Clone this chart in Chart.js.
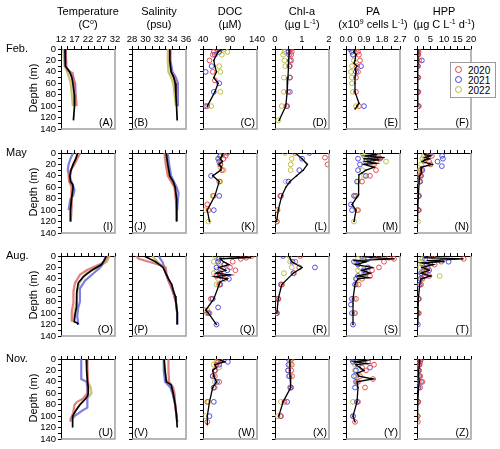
<!DOCTYPE html>
<html>
<head>
<meta charset="utf-8">
<script src="https://cdn.jsdelivr.net/npm/chart.js@4"></script>
<style>
  body { margin: 0; background: #fff; }
  #fig { position: relative; width: 500px; height: 449px; font-family: "Liberation Sans", Arial, sans-serif; color: #000; }
  #fig canvas { position: absolute; }
  .coltitle { position: absolute; width: 110px; text-align: center; font-size: 11px; line-height: 13px; top: 5px; }
  .coltitle sup { font-size: 7px; line-height: 0; vertical-align: 4px; }
  .rowlab { position: absolute; left: 6px; font-size: 11px; }
  .depth { position: absolute; font-size: 11px; width: 80px; text-align: center; transform: rotate(-90deg); }
  #legend { position: absolute; left: 450px; top: 62px; width: 44px; height: 34px; border: 1px solid #9a9a9a; background: #fff; font-size: 10px; z-index: 5; }
  #legend div { position: absolute; left: 4px; height: 10px; line-height: 10px; }
  #legend span.dot { display: inline-block; width: 5px; height: 5px; border: 1px solid; border-radius: 50%; margin-right: 6px; vertical-align: 1px; }
</style>
</head>
<body>
<div id="fig"></div>
<script>
// perfis por mês (linhas) e variável (colunas) — pares [profundidade, valor]
const months = ['Feb.', 'May', 'Aug.', 'Nov.'];
const varNames = ['Temperature', 'Salinity', 'DOC', 'Chl-a', 'PA', 'HPP'];
const varUnits = ['(C<sup>o</sup>)', '(psu)', '(\u00b5M)', '(\u00b5g L<sup>-1</sup>)', '(x10<sup>9</sup> cells L<sup>-1</sup>)', '(\u00b5g C L<sup>-1</sup> d<sup>-1</sup>)'];
const years = ['2020', '2021', '2022'];
const panelLetters = [['A','B','C','D','E','F'], ['I','J','K','L','M','N'], ['O','P','Q','R','S','T'], ['U','V','W','X','Y','Z']];
const xMin = [12, 28, 40, 0, 0, 0];
const xMax = [32, 36, 140, 2, 2.7, 20];
const xLabelStep = [5, 2, 50, 1, 0.9, 5];
const xTickStep = [2.5, 1, 25, 0.5, 0.45, 2.5];
const depthMax = 140;

// Fevereiro
const A_2020 = [[0,13.8],[10,13.8],[20,13.9],[30,14],[38,14.5],[42,16.3],[60,17],[80,17.4],[100,17.8]];
const A_2021 = [[0,13.4],[10,13.4],[20,13.5],[30,13.7],[40,15.3],[50,16.5],[60,17.2],[80,17.3],[100,17]];
const A_2022 = [[0,12.9],[10,13],[20,13.1],[30,13.3],[40,14.3],[50,15],[60,15.6],[80,16],[100,16.4]];
const A_mean = [[0,13.5],[10,13.5],[20,13.6],[30,13.8],[40,15.2],[50,16],[60,16.4],[80,16.9],[100,17],[125,16.6]];
const B_2020 = [[0,33.6],[20,33.6],[40,33.8],[50,34.2],[60,34.5],[80,34.6],[100,34.7]];
const B_2021 = [[0,33.7],[20,33.7],[40,34],[50,34.5],[60,34.8],[80,34.8],[100,34.8]];
const B_2022 = [[0,33.3],[20,33.3],[40,33.4],[50,33.8],[60,34.1],[80,34.3],[100,34.5]];
const B_mean = [[0,33.6],[20,33.6],[40,33.8],[50,34.2],[60,34.4],[80,34.5],[100,34.6],[125,34.7]];
const C_2020 = [[0,65],[5,60],[10,58],[20,52],[40,58],[55,62],[100,48]];
const C_2021 = [[0,72],[5,70],[10,62],[30,56],[40,45],[60,70],[75,60],[100,45]];
const C_2022 = [[0,80],[5,85],[10,75],[30,70],[40,72],[75,72],[100,55]];
const C_mean = [[0,75],[5,68],[10,65],[20,60],[30,62],[40,65],[50,60],[60,68],[75,62],[100,48]];
const D_2020 = [[0,0.6],[5,0.62],[10,0.6],[20,0.6],[30,0.55],[50,0.55],[75,0.48],[100,0.42]];
const D_2021 = [[0,0.55],[5,0.5],[10,0.52],[20,0.55],[30,0.53],[50,0.55],[75,0.55],[100,0.45]];
const D_2022 = [[0,0.35],[5,0.35],[10,0.3],[20,0.35],[30,0.38],[50,0.33],[75,0.33],[100,0.25],[125,0.12]];
const D_mean = [[0,0.53],[10,0.52],[20,0.5],[30,0.5],[50,0.48],[75,0.45],[100,0.4],[125,0.15]];
const E_2020 = [[0,0.55],[5,0.6],[10,0.65],[20,0.7],[30,0.55],[40,0.6],[50,0.5],[75,0.5],[100,0.65]];
const E_2021 = [[0,0.2],[5,0.3],[10,0.35],[30,0.75],[40,0.5],[100,0.9]];
const E_2022 = [[0,0.4],[10,0.35],[20,0.4],[30,0.3],[40,0.25],[50,0.3],[60,0.3],[75,0.35],[100,0.5]];
const E_mean = [[0,0.45],[5,0.4],[10,0.5],[20,0.45],[25,0.4],[30,0.55],[35,0.45],[40,0.5],[50,0.45],[60,0.45],[75,0.45],[95,0.65],[100,0.55],[105,0.45]];
const F_2020 = [[0,0.5],[5,0.6],[10,0.5],[20,0.8],[30,0.3],[50,0.5],[75,0.5],[100,0.7]];
const F_2021 = [[0,0.3],[5,0.2],[10,0.3],[20,1.8],[30,0.3],[50,0.3],[75,0.3],[100,0.4]];
const F_2022 = [[0,0.2],[10,0.2],[20,0.2],[30,0.1],[50,0.2],[75,0.2],[100,0.2]];
const F_mean = [[0,0.3],[10,0.3],[20,0.4],[30,0.3],[50,0.3],[75,0.3],[100,0.3]];

// Maio
const I_2020 = [[0,19.2],[10,18],[20,17],[30,15.5],[40,14.8],[50,15],[60,16],[80,16],[100,15.8],[120,15.6]];
const I_2021 = [[0,16.5],[10,15.5],[20,14.8],[30,14.5],[40,15],[55,16.3],[65,17],[75,16.5],[80,15.5],[100,14.8]];
const I_2022 = [[0,18],[10,17.5],[20,16.5],[30,15.8],[40,15.5],[50,15.5],[60,16],[80,16],[100,15.7],[120,15.5]];
const I_mean = [[0,18.2],[10,17.5],[20,16.5],[30,15.7],[40,15.3],[50,15.5],[55,16.3],[60,16.5],[80,15.9],[100,15.5],[120,15.5]];
const J_2020 = [[0,32.8],[20,33],[40,33.3],[50,33.8],[60,34.3],[80,34.5],[100,34.6],[120,34.6]];
const J_2021 = [[0,33.3],[20,33.5],[40,33.8],[50,34.2],[60,34.6],[70,34.9],[80,34.8],[100,34.7]];
const J_2022 = [[0,33.1],[20,33.2],[40,33.5],[60,34.3],[80,34.5],[100,34.6],[120,34.6]];
const J_mean = [[0,33.05],[20,33.3],[40,33.6],[50,34.1],[60,34.4],[80,34.6],[100,34.6],[120,34.65]];
const K_2020 = [[0,85],[5,82],[10,78],[20,72],[30,75],[50,70],[75,60],[90,48],[100,50]];
const K_2021 = [[0,78],[5,72],[10,68],[15,70],[20,72],[40,55],[75,70],[100,60]];
const K_2022 = [[0,75],[5,72],[10,70],[25,72],[30,78],[50,72],[75,58],[100,44],[120,50]];
const K_mean = [[0,77],[5,75],[10,72],[15,76],[20,70],[25,74],[30,73],[40,58],[50,70],[75,62],[100,48],[120,52]];
const L_2020 = [[0,0.74],[8,1.85],[20,1.95],[75,0.2],[100,0.08],[120,0.07]];
const L_2021 = [[0,1.27],[10,1.0],[30,0.9],[50,0.5],[75,0.22]];
const L_2022 = [[0,0.37],[10,0.62],[20,0.58],[30,0.58],[50,0.4],[75,0.2],[100,0.1],[120,0.06]];
const L_mean = [[0,0.75],[10,1.0],[20,1.2],[30,1.05],[40,0.8],[50,0.55],[60,0.4],[75,0.25],[100,0.12],[120,0.06]];
const M_2020 = [[0,1.3],[5,1.6],[10,1.7],[15,1.5],[20,1.4],[30,1.5],[40,1.2],[50,0.8],[75,0.5],[100,0.6]];
const M_2021 = [[0,1.4],[5,1.2],[10,0.6],[15,1.0],[20,0.7],[30,0.6],[40,1.0],[50,0.55],[75,0.4],[90,0.25],[100,0.3]];
const M_2022 = [[0,0.8],[5,0.9],[10,1.0],[15,2.0],[20,1.3],[30,0.8],[40,0.9],[50,0.6],[75,0.45],[100,0.55],[120,0.4]];
const M_mean = [[0,1.1],[3,1.5],[5,1.0],[8,1.9],[10,0.9],[12,1.6],[15,1.0],[18,1.5],[20,0.9],[25,1.4],[30,1.0],[35,0.8],[38,0.65],[50,0.63],[73,0.63],[90,0.3],[100,0.5],[120,0.4]];
const N_2020 = [[0,4.5],[5,5.5],[10,3.5],[15,4.5],[20,5],[30,1.5],[40,1.2],[50,1],[75,0.8],[100,0.7]];
const N_2021 = [[0,5],[5,9.3],[10,9.6],[15,7.6],[23,9.2],[30,2.0],[40,1.5],[50,1.2],[75,0.5],[100,0.4]];
const N_2022 = [[0,3],[5,2.5],[10,2],[15,2.5],[20,1.5],[30,1],[40,0.8],[50,0.7],[75,0.5],[100,0.5],[120,0.4]];
const N_mean = [[0,2.5],[3,3],[5,5],[8,3],[10,4.5],[12,3],[15,2],[20,5.5],[25,1.5],[30,1.5],[35,1.8],[40,1],[50,0.8],[75,0.5],[100,0.3],[120,0.2]];

// Agosto
const O_2020 = [[0,29.5],[8,28.5],[13,27],[25,21.5],[33,19],[47,17.2],[62,16.6],[82,16.6],[97,16],[115,16]];
const O_2021 = [[0,28.5],[10,28],[20,26.5],[28,24.6],[43,20.9],[57,19],[80,19],[90,18.4],[105,18],[120,18.4]];
const O_2022 = [[0,30],[10,29],[20,25.5],[30,21.5],[45,19],[60,18],[80,17.8],[100,17],[115,16.5]];
const O_mean = [[0,28.8],[5,28.3],[15,27],[25,23.4],[36,20.3],[47,18.4],[65,17.8],[88,17.8],[103,17.2],[115,16.9],[117,18],[120,18.4]];
const P_2020 = [[0,28.6],[5,29],[10,30.5],[15,32],[20,33],[30,33.1],[40,33.3],[60,34],[80,34.5],[100,34.7]];
const P_2021 = [[0,32],[5,32.2],[10,32.5],[20,32.8],[30,33],[40,33.3],[60,34],[80,34.5],[100,34.7],[120,34.7]];
const P_2022 = [[0,31],[10,31.8],[20,32.7],[30,33],[40,33.4],[60,34.1],[80,34.5],[100,34.7],[120,34.7]];
const P_mean = [[0,29.8],[5,30.6],[10,31.5],[20,32.6],[30,33],[40,33.4],[50,33.9],[60,34.1],[70,34.4],[80,34.5],[100,34.7],[120,34.7]];
const Q_2020 = [[0,130],[3,120],[5,110],[10,95],[15,80],[20,90],[25,100],[30,72],[35,65],[40,80],[50,70],[75,55],[95,43],[100,52]];
const Q_2021 = [[0,75],[5,70],[10,68],[15,80],[20,65],[25,85],[30,70],[35,72],[40,88],[50,72],[75,58],[90,68],[100,50],[120,65]];
const Q_2022 = [[0,62],[5,68],[10,60],[15,70],[20,72],[25,65],[30,60],[35,75],[40,68],[50,65],[75,55],[95,48],[100,47]];
const Q_mean = [[0,66],[3,128],[5,72],[10,78],[15,88],[20,70],[25,82],[30,65],[33,90],[36,62],[40,85],[45,72],[50,70],[75,60],[95,45],[100,50],[120,65]];
const R_2020 = [[0,0.93],[10,0.75],[20,0.9],[30,0.7],[50,0.25],[75,0.13],[100,0.07]];
const R_2021 = [[0,0.3],[10,0.65],[20,1.48],[30,0.68],[50,0.22],[75,0.1],[100,0.06]];
const R_2022 = [[0,0.53],[10,0.56],[20,0.62],[30,0.33],[50,0.26],[75,0.12],[100,0.07]];
const R_mean = [[0,0.52],[10,0.62],[20,1.0],[30,0.68],[50,0.25],[75,0.12],[100,0.07]];
const S_2020 = [[0,1.65],[3,2.15],[5,2.4],[10,1.9],[20,1.65],[25,1.3],[30,0.97],[35,1.2],[40,0.8],[50,0.63],[75,0.5],[100,0.45]];
const S_2021 = [[0,0.8],[5,1.1],[10,0.4],[15,0.6],[20,1.1],[25,0.9],[30,1.0],[35,0.6],[40,0.5],[50,0.45],[75,0.3],[85,0.25],[100,0.3],[120,0.35]];
const S_2022 = [[0,0.9],[5,0.6],[10,0.5],[20,0.7],[25,0.6],[30,0.9],[40,0.55],[50,0.5],[75,0.4],[100,0.4]];
const S_mean = [[0,0.8],[3,1.3],[5,2.4],[8,0.4],[10,1.0],[15,0.5],[20,1.3],[25,0.8],[30,1.2],[35,0.6],[38,1.1],[40,0.6],[45,0.5],[50,0.45],[75,0.35],[100,0.35],[120,0.35]];
const T_2020 = [[0,5],[5,17.3],[10,9],[15,6.5],[20,4],[25,3.5],[30,3],[35,4.5],[40,2],[50,1.5],[75,0.7],[100,0.5]];
const T_2021 = [[0,6],[5,3],[10,11.7],[15,3.5],[20,2.5],[25,4.5],[30,1.5],[35,3],[40,1.2],[50,1],[75,0.5],[100,0.2],[120,0.3]];
const T_2022 = [[0,5.6],[5,2],[10,1.5],[15,2],[20,1.2],[25,2.5],[30,1.5],[35,8.4],[40,1.5],[50,1],[75,0.6],[100,0.8]];
const T_mean = [[0,4],[3,3],[5,17],[8,4],[10,10],[12,2],[15,6],[20,2],[25,4.5],[30,1.5],[35,5],[40,1.5],[50,1],[75,0.5],[100,0.4],[120,0.3]];

// Novembro
const U_2020 = [[0,21.8],[20,21.8],[40,22],[60,21.8],[70,20],[75,18],[80,17],[95,16.5],[105,15.5],[110,15.5]];
const U_2021 = [[0,19.5],[20,19.5],[35,19.5],[40,21.5],[60,21.8],[75,21.8],[85,21.7],[90,20],[100,17],[105,16]];
const U_2022 = [[0,21.5],[20,21.7],[40,22],[50,23],[60,23.3],[65,22.5],[70,21],[80,19],[90,17.5],[100,16.5],[110,16]];
const U_mean = [[0,21.4],[20,21.5],[40,21.8],[50,22.1],[60,22.1],[65,21.8],[70,21],[80,19],[90,17.5],[100,16.3],[110,16.2],[120,16.4]];
const V_2020 = [[0,33.4],[20,33.4],[40,33.5],[50,34.1],[60,34.3],[80,34.4],[100,34.6],[110,34.7]];
const V_2021 = [[0,32.7],[20,32.7],[40,32.9],[50,33.7],[60,34],[80,34.4],[100,34.6],[110,34.7]];
const V_2022 = [[0,32.8],[20,32.8],[35,33],[45,33.6],[60,34.1],[80,34.4],[100,34.6],[110,34.7]];
const V_mean = [[0,32.75],[20,32.9],[40,33.1],[45,33.8],[60,34.1],[80,34.4],[100,34.6],[120,34.7]];
const W_2020 = [[0,70],[5,68],[10,65],[20,62],[30,62],[40,70],[50,60],[75,48],[110,48]];
const W_2021 = [[0,75],[5,86],[10,70],[20,62],[30,58],[40,66],[50,60],[75,60],[100,52]];
const W_2022 = [[0,72],[5,65],[10,60],[15,70],[20,62],[30,58],[40,62],[50,62],[75,50],[100,44]];
const W_mean = [[0,68],[5,80],[10,62],[15,65],[20,58],[30,60],[40,65],[50,58],[75,52],[100,48],[115,48]];
const X_2020 = [[0,0.62],[10,0.62],[20,0.6],[30,0.63],[50,0.6],[75,0.35],[100,0.2]];
const X_2021 = [[0,0.5],[10,0.5],[20,0.48],[30,0.52],[50,0.58],[75,0.45],[100,0.22]];
const X_2022 = [[0,0.58],[10,0.55],[20,0.5],[30,0.55],[50,0.55],[75,0.22],[100,0.1]];
const X_mean = [[0,0.55],[10,0.55],[20,0.55],[30,0.56],[50,0.58],[75,0.3],[100,0.14]];
const Y_2020 = [[0,0.9],[5,1.1],[10,1.4],[15,0.8],[20,1.0],[30,0.7],[35,1.35],[40,0.6],[50,0.95],[75,0.6],[110,0.45]];
const Y_2021 = [[0,0.4],[5,0.35],[10,0.6],[15,1.2],[20,0.5],[30,0.4],[40,0.5],[50,0.45],[75,0.55],[100,0.35]];
const Y_2022 = [[0,0.3],[5,0.5],[10,0.45],[20,0.45],[30,0.5],[40,0.55],[75,0.35],[100,0.35]];
const Y_mean = [[0,0.4],[3,1.0],[5,0.45],[8,1.05],[10,0.5],[15,0.7],[20,0.9],[25,0.55],[30,0.65],[35,1.35],[40,0.55],[50,0.6],[75,0.55],[100,0.35],[110,0.45]];
const Z_2020 = [[0,1.5],[5,1.2],[10,1.0],[20,0.8],[30,1.2],[40,2.0],[50,1.2],[75,0.5],[100,0.3],[110,0.3]];
const Z_2021 = [[0,0.5],[5,0.6],[10,0.8],[20,0.5],[30,0.8],[40,1.5],[50,0.6],[75,0.3]];
const Z_2022 = [[0,0.8],[5,0.6],[10,0.4],[20,0.5],[30,0.4],[40,0.8],[50,0.5],[75,0.3],[100,0.2]];
const Z_mean = [[0,0.8],[5,1],[10,0.8],[20,0.6],[30,0.6],[40,0.8],[50,0.6],[75,0.3],[100,0.2],[110,0.2]];

const profiles = {
  A: [A_2020, A_2021, A_2022, A_mean], B: [B_2020, B_2021, B_2022, B_mean], C: [C_2020, C_2021, C_2022, C_mean],
  D: [D_2020, D_2021, D_2022, D_mean], E: [E_2020, E_2021, E_2022, E_mean], F: [F_2020, F_2021, F_2022, F_mean],
  I: [I_2020, I_2021, I_2022, I_mean], J: [J_2020, J_2021, J_2022, J_mean], K: [K_2020, K_2021, K_2022, K_mean],
  L: [L_2020, L_2021, L_2022, L_mean], M: [M_2020, M_2021, M_2022, M_mean], N: [N_2020, N_2021, N_2022, N_mean],
  O: [O_2020, O_2021, O_2022, O_mean], P: [P_2020, P_2021, P_2022, P_mean], Q: [Q_2020, Q_2021, Q_2022, Q_mean],
  R: [R_2020, R_2021, R_2022, R_mean], S: [S_2020, S_2021, S_2022, S_mean], T: [T_2020, T_2021, T_2022, T_mean],
  U: [U_2020, U_2021, U_2022, U_mean], V: [V_2020, V_2021, V_2022, V_mean], W: [W_2020, W_2021, W_2022, W_mean],
  X: [X_2020, X_2021, X_2022, X_mean], Y: [Y_2020, Y_2021, Y_2022, Y_mean], Z: [Z_2020, Z_2021, Z_2022, Z_mean]
};

const pointColors = ['rgb(228,62,62)', 'rgb(62,62,226)', 'rgb(186,186,48)'];
const lineColors = ['rgba(226,105,105,0.85)', 'rgba(105,105,226,0.85)', 'rgba(192,192,95,0.9)'];

// posições dos painéis (px)
const colLeft = [61, 132, 203, 275, 346, 417];
const rowTop = [49, 153, 256, 359];
const plotW = 54, plotH = 80;
const padL = 42, padT = 18, padR = 9, padB = 8;
const fontFam = '"Liberation Sans", Arial, sans-serif';

const fig = document.getElementById('fig');

const framePlugin = {
  id: 'frame',
  afterDraw(chart, args, opts) {
    const { ctx, chartArea: a } = chart;
    ctx.save();
    ctx.strokeStyle = '#a0a0a0';
    ctx.lineWidth = 1.5;
    ctx.beginPath();
    ctx.moveTo(a.right, a.top);
    ctx.lineTo(a.right, a.bottom);
    ctx.lineTo(a.left, a.bottom);
    ctx.stroke();
    ctx.fillStyle = '#000';
    ctx.font = '10.5px ' + fontFam;
    ctx.textBaseline = 'bottom';
    ctx.textAlign = opts.left ? 'left' : 'right';
    ctx.fillText('(' + opts.letter + ')', opts.left ? a.left + 2 : a.right - 2, a.bottom - 1);
    ctx.restore();
  }
};

const isMultiple = (v, step) => Math.abs(v / step - Math.round(v / step)) < 1e-6;
const toXY = arr => arr.map(([d, v]) => ({ x: v, y: d }));

months.forEach((mes, r) => {
  varNames.forEach((nome, c) => {
    const letter = panelLetters[r][c];
    const series = profiles[letter];
    const asLines = c < 2;

    const datasets = [{
      label: 'mean',
      data: toXY(series[3]),
      showLine: true,
      borderColor: '#000',
      borderWidth: asLines ? 1.7 : 1.3,
      pointRadius: asLines ? 0 : 0.8,
      pointBackgroundColor: '#000',
      pointBorderWidth: 0
    }];
    years.forEach((ano, i) => {
      datasets.push(asLines ? {
        label: ano,
        data: toXY(series[i]),
        showLine: true,
        borderColor: lineColors[i],
        borderWidth: 2.2,
        pointRadius: 0
      } : {
        label: ano,
        data: toXY(series[i]),
        showLine: false,
        pointRadius: 2.4,
        pointBorderColor: pointColors[i],
        pointBackgroundColor: 'rgba(0,0,0,0)',
        pointBorderWidth: 0.9
      });
    });

    const canvas = document.createElement('canvas');
    canvas.width = padL + plotW + padR;
    canvas.height = padT + plotH + padB;
    canvas.style.left = (colLeft[c] - padL) + 'px';
    canvas.style.top = (rowTop[r] - padT) + 'px';
    fig.appendChild(canvas);

    const axisGrid = { drawOnChartArea: false, drawTicks: true, tickLength: 3, color: '#000', lineWidth: 1 };
    new Chart(canvas.getContext('2d'), {
      type: 'scatter',
      data: { datasets },
      plugins: [framePlugin],
      options: {
        responsive: false,
        animation: false,
        devicePixelRatio: 1,
        layout: { padding: { left: 0, top: 0, right: padR, bottom: padB } },
        plugins: {
          legend: { display: false },
          tooltip: { enabled: false },
          frame: { letter, left: c === 1 }
        },
        scales: {
          x: {
            type: 'linear',
            position: 'top',
            min: xMin[c],
            max: xMax[c],
            afterFit: s => { s.height = padT; },
            border: { display: true, color: '#000', width: 1 },
            grid: axisGrid,
            ticks: {
              stepSize: xTickStep[c],
              autoSkip: false,
              maxRotation: 0,
              padding: 1,
              color: '#000',
              font: { size: 9.5, family: fontFam },
              callback: v => {
                if (r !== 0 || !isMultiple(v - xMin[c], xLabelStep[c])) return '';
                return c === 4 ? v.toFixed(1) : String(Math.round(v * 100) / 100);
              }
            }
          },
          y: {
            type: 'linear',
            reverse: true,
            min: 0,
            max: depthMax,
            afterFit: s => { s.width = padL; },
            border: { display: true, color: '#000', width: 1 },
            grid: axisGrid,
            ticks: {
              stepSize: 10,
              autoSkip: false,
              padding: 2,
              color: '#000',
              font: { size: 9.5, family: fontFam },
              callback: v => (c === 0 && v % 20 === 0) ? String(v) : ''
            }
          }
        }
      }
    });
  });

  const lab = document.createElement('div');
  lab.className = 'rowlab';
  lab.textContent = mes;
  lab.style.top = (rowTop[r] - 7) + 'px';
  fig.appendChild(lab);

  const dep = document.createElement('div');
  dep.className = 'depth';
  dep.textContent = 'Depth (m)';
  dep.style.left = (33 - 40) + 'px';
  dep.style.top = (rowTop[r] + plotH / 2 - 7) + 'px';
  fig.appendChild(dep);
});

varNames.forEach((nome, c) => {
  const t = document.createElement('div');
  t.className = 'coltitle';
  t.innerHTML = nome + '<br>' + varUnits[c];
  t.style.left = (colLeft[c] + plotW / 2 - 55) + 'px';
  fig.appendChild(t);
});

// legenda
const leg = document.createElement('div');
leg.id = 'legend';
years.forEach((ano, i) => {
  const item = document.createElement('div');
  item.style.top = (3 + i * 10) + 'px';
  item.innerHTML = '<span class="dot" style="border-color:' + pointColors[i] + '"></span>' + ano;
  leg.appendChild(item);
});
fig.appendChild(leg);
</script>
</body>
</html>
